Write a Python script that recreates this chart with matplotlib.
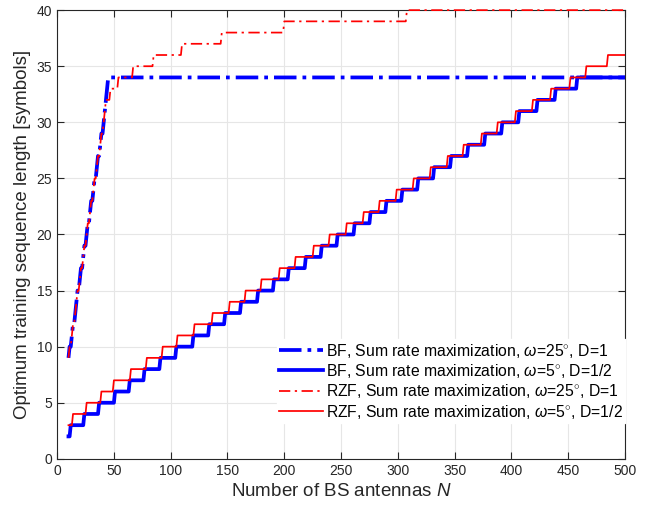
import numpy as np
import matplotlib
matplotlib.use('Agg')
import matplotlib.pyplot as plt

plt.rcParams['font.family'] = ['Liberation Sans', 'DejaVu Sans']
plt.rcParams['mathtext.fontset'] = 'custom'
plt.rcParams['mathtext.rm'] = 'Liberation Sans'
plt.rcParams['mathtext.it'] = 'Liberation Sans:italic'

# N at which each curve reaches the next value
bf_d1_N = [10, 11, 13, 14, 16, 17, 18, 20, 21, 23, 24, 26, 27, 29, 30, 32, 33,
           35, 36, 38, 39, 41, 42, 43, 44, 45]
bf_d1_val = [9, 10, 11, 12, 13, 14, 15, 16, 17, 18, 19, 20, 21, 22, 23, 24, 25,
             26, 27, 28, 29, 30, 31, 32, 33, 34]

bf_half_N = [10, 12, 24, 37, 51, 64, 77, 91, 105, 120, 134, 148, 162, 177, 191,
             204, 219, 233, 247, 262, 276, 290, 304, 318, 332, 347, 362, 377,
             392, 407, 423, 439, 458]
bf_half_val = [2, 3, 4, 5, 6, 7, 8, 9, 10, 11, 12, 13, 14, 15, 16, 17, 18, 19,
               20, 21, 22, 23, 24, 25, 26, 27, 28, 29, 30, 31, 32, 33, 34]

rzf_d1_N = [10, 11, 13, 14, 16, 17, 18, 20, 21, 23, 24, 26, 27, 29, 30, 32, 33,
            35, 36, 38, 39, 41, 42, 43, 45, 47, 54, 67, 85, 110, 145, 200, 308]
rzf_d1_val = [9, 10, 11, 12, 13, 14, 15, 16, 17, 18, 19, 20, 21, 22, 23, 24, 25,
              26, 27, 28, 29, 30, 31, 32, 32, 33, 34, 35, 36, 37, 38, 39, 40]

rzf_half_N = [10, 14, 26, 39, 50, 65, 79, 93, 106, 121, 137, 152, 166, 180, 196,
              210, 226, 240, 255, 270, 284, 299, 314, 329, 344, 358, 374, 388,
              404, 419, 435, 452, 466, 485]
rzf_half_val = [3, 4, 5, 6, 7, 8, 9, 10, 11, 12, 13, 14, 15, 16, 17, 18, 19, 20,
                21, 22, 23, 24, 25, 26, 27, 28, 29, 30, 31, 32, 33, 34, 35, 36]

labels = [r'BF, Sum rate maximization, $\omega$=25$^{\circ}$, D=1',
          r'BF, Sum rate maximization, $\omega$=5$^{\circ}$, D=1/2',
          r'RZF, Sum rate maximization, $\omega$=25$^{\circ}$, D=1',
          r'RZF, Sum rate maximization, $\omega$=5$^{\circ}$, D=1/2']

N_MAX = 500


def vertices(n, v):
    # curve sampled at integer N: each jump spans one antenna
    xs, ys = [n[0]], [v[0]]
    for i in range(1, len(n)):
        if n[i] - 1 > xs[-1]:
            xs.append(n[i] - 1)
            ys.append(v[i - 1])
        xs.append(n[i])
        ys.append(v[i])
    xs.append(N_MAX)
    ys.append(v[-1])
    return xs, ys


fig = plt.figure(figsize=(6.49, 5.07), dpi=100)
ax = fig.add_axes([0.088, 0.095, 0.875, 0.885])

x, y = vertices(bf_d1_N, bf_d1_val)
ax.plot(x, y, color='b', lw=2.7, ls=(0, (6.0, 1.6, 1.0, 1.6)), label=labels[0])
x, y = vertices(bf_half_N, bf_half_val)
ax.plot(x, y, color='b', lw=2.7, ls='-', label=labels[1])
x, y = vertices(rzf_d1_N, rzf_d1_val)
ax.plot(x, y, color='r', lw=1.25, ls=(0, (6.5, 2.6, 1.3, 2.6)), label=labels[2],
        clip_on=False, zorder=3)
x, y = vertices(rzf_half_N, rzf_half_val)
ax.plot(x, y, color='r', lw=1.25, ls='-', label=labels[3])

ax.set_xlim(0, 500)
ax.set_ylim(0, 40)
ax.set_xticks(np.arange(0, 501, 50))
ax.set_yticks(np.arange(0, 41, 5))
ax.grid(True, color='#e6e6e6', lw=0.8)
ax.set_axisbelow(True)
ax.tick_params(direction='in', top=True, right=True, length=5, labelsize=10,
               color='#262626', labelcolor='#262626')
for s in ax.spines.values():
    s.set_color('#262626')
    s.set_linewidth(0.8)

ax.set_xlabel(r'Number of BS antennas $N$', fontsize=13.5, color='#262626')
ax.set_ylabel('Optimum training sequence length [symbols]', fontsize=13.5,
              color='#262626')

leg = ax.legend(loc='lower right', bbox_to_anchor=(1.0, 0.08), fontsize=11.3,
                frameon=True, fancybox=False, edgecolor='white',
                facecolor='white', framealpha=1, handlelength=2.75,
                handletextpad=0.2, labelspacing=0.15, borderpad=0.15,
                borderaxespad=0.0)

fig.savefig('out.png', dpi=100)
